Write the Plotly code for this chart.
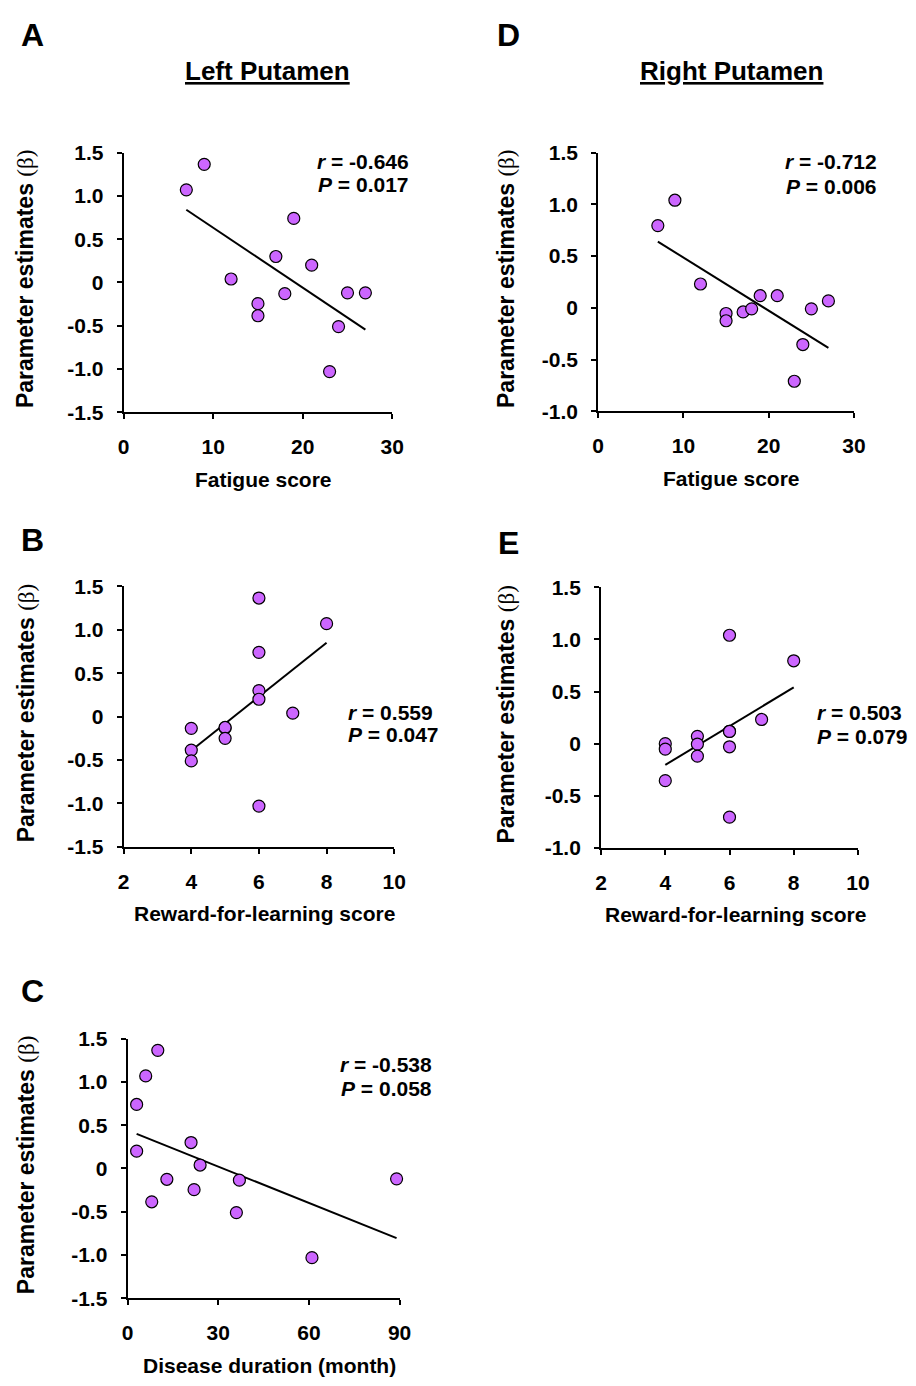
import plotly.graph_objects as go

W, H = 916, 1386

# ---------------- data ----------------
# A: Left putamen vs fatigue score
A_x = [7, 9, 12, 15, 15, 17, 18, 19, 21, 23, 24, 25, 27]
A_y = [1.07, 1.365, 0.04, -0.245, -0.385, 0.30, -0.13, 0.74, 0.20, -1.03, -0.51, -0.12, -0.12]
A_fit_x = [7, 27]
A_fit_y = [0.84, -0.545]

# B: Left putamen vs reward-for-learning score
B_x = [4, 4, 4, 5, 5, 5, 6, 6, 6, 6, 6, 7, 8]
B_y = [-0.135, -0.385, -0.51, -0.13, -0.125, -0.25, 1.365, 0.74, 0.30, 0.20, -1.03, 0.04, 1.07]
B_fit_x = [4, 8]
B_fit_y = [-0.39, 0.85]

# C: Left putamen vs disease duration
C_x = [3, 3, 6, 8, 10, 13, 21, 22, 24, 36, 37, 61, 89]
C_y = [0.74, 0.20, 1.07, -0.385, 1.365, -0.125, 0.30, -0.245, 0.04, -0.51, -0.135, -1.03, -0.12]
C_fit_x = [3, 89]
C_fit_y = [0.40, -0.805]

# D: Right putamen vs fatigue score
D_x = [7, 9, 12, 15, 15, 17, 18, 19, 21, 23, 24, 25, 27]
D_y = [0.795, 1.04, 0.23, -0.055, -0.125, -0.04, -0.01, 0.117, 0.117, -0.71, -0.355, -0.01, 0.067]
D_fit_x = [7, 27]
D_fit_y = [0.64, -0.387]

# E: Right putamen vs reward-for-learning score
E_x = [4, 4, 4, 5, 5, 5, 6, 6, 6, 6, 6, 7, 8]
E_y = [0.0, -0.053, -0.355, 0.07, -0.005, -0.12, 1.04, 0.119, 0.117, -0.03, -0.705, 0.232, 0.795]
E_fit_x = [4, 8]
E_fit_y = [-0.204, 0.54]

yticks_15 = [-1.5, -1.0, -0.5, 0, 0.5, 1.0, 1.5]
yticktext_15 = ["-1.5", "-1.0", "-0.5", "0", "0.5", "1.0", "1.5"]
yticks_10 = [-1.0, -0.5, 0, 0.5, 1.0, 1.5]
yticktext_10 = ["-1.0", "-0.5", "0", "0.5", "1.0", "1.5"]
xticks_fatigue = [0, 10, 20, 30]
xticks_reward = [2, 4, 6, 8, 10]
xticks_duration = [0, 30, 60, 90]

stats = {
    "A": ("-0.646", "0.017"),
    "B": ("0.559", "0.047"),
    "C": ("-0.538", "0.058"),
    "D": ("-0.712", "0.006"),
    "E": ("0.503", "0.079"),
}

# ---------------- styling ----------------
FONT = "Liberation Sans, Arial, Helvetica, sans-serif"
PURPLE = "#CC66FF"


def px(p):
    return p / W


def py(p):
    return 1 - p / H


panels = [
    ("A", A_x, A_y, A_fit_x, A_fit_y, [0, 30], [-1.5, 1.5], xticks_fatigue, yticks_15, yticktext_15,
     (120, 394, 143, 407), "Fatigue score"),
    ("D", D_x, D_y, D_fit_x, D_fit_y, [0, 30], [-1.0, 1.5], xticks_fatigue, yticks_10, yticktext_10,
     (604, 865, 143, 406), "Fatigue score"),
    ("B", B_x, B_y, B_fit_x, B_fit_y, [2, 10], [-1.5, 1.5], xticks_reward, yticks_15, yticktext_15,
     (120, 396, 584, 849), "Reward-for-learning score"),
    ("E", E_x, E_y, E_fit_x, E_fit_y, [2, 10], [-1.0, 1.5], xticks_reward, yticks_10, yticktext_10,
     (607, 869, 585, 850), "Reward-for-learning score"),
    ("C", C_x, C_y, C_fit_x, C_fit_y, [0, 90], [-1.5, 1.5], xticks_duration, yticks_15, yticktext_15,
     (124, 401.5, 1044, 1308), "Disease duration (month)"),
]

fig = go.Figure()
layout = dict(
    width=W, height=H, autosize=False,
    margin=dict(l=0, r=0, t=0, b=0),
    paper_bgcolor="white", plot_bgcolor="white",
    showlegend=False,
    font=dict(family=FONT, size=19, color="black", weight="bold"),
)
annotations = []

for i, (key, x, y, fx, fy, xr, yr, xt, yt, ytt, dom, xtitle) in enumerate(panels):
    n = i + 1
    xa = "x" if n == 1 else f"x{n}"
    ya = "y" if n == 1 else f"y{n}"
    x0, x1, yt_px, yb_px = dom
    common = dict(
        showline=True, linecolor="black", linewidth=2,
        ticks="outside", ticklen=5, tickwidth=2, tickcolor="black",
        showgrid=False, zeroline=False, fixedrange=True,
        tickfont=dict(family=FONT, size=21, color="black", weight="bold"),
    )
    layout["xaxis" if n == 1 else f"xaxis{n}"] = dict(
        common, domain=[px(x0), px(x1)], range=xr, anchor=ya,
        tickmode="array", tickvals=xt, ticktext=[str(v) for v in xt],
        ticklabelstandoff=10,
    )
    layout["yaxis" if n == 1 else f"yaxis{n}"] = dict(
        common, domain=[py(yb_px), py(yt_px)], range=yr, anchor=xa,
        tickmode="array", tickvals=yt, ticktext=ytt,
        ticklabelstandoff=9,
    )
    fig.add_trace(go.Scatter(
        x=fx, y=fy, mode="lines", xaxis=xa, yaxis=ya,
        line=dict(color="black", width=2), hoverinfo="skip", cliponaxis=False,
    ))
    fig.add_trace(go.Scatter(
        x=x, y=y, mode="markers", xaxis=xa, yaxis=ya, cliponaxis=False,
        marker=dict(size=12, color=PURPLE, line=dict(color="black", width=1.2)),
    ))

    cx = (x0 + x1) / 2 + 6
    annotations.append(dict(
        text=xtitle, xref="paper", yref="paper", x=px(cx), y=py(yb_px + 68),
        xanchor="center", yanchor="middle", showarrow=False,
        font=dict(family=FONT, size=21, color="black", weight="bold"),
    ))
    ytx = 20 if x0 < 300 else 510
    cy = (yt_px + yb_px) / 2 - 3
    annotations.append(dict(
        text="Parameter estimates <span style=\"font-weight:normal;font-family:'Liberation Serif'\">(β)</span>",
        xref="paper", yref="paper", x=px(ytx), y=py(cy), textangle=-90,
        xanchor="center", yanchor="middle", showarrow=False,
        font=dict(family=FONT, size=23, color="black", weight="bold"),
    ))

r_txt = {k: f"<i>r</i> = {v[0]}" for k, v in stats.items()}
p_txt = {k: f"<i>P</i> = {v[1]}" for k, v in stats.items()}
stat_pos = {
    "A": (413, 152, 175, "right"),
    "D": (890, 152, 177, "right"),
    "B": (347, 712, 735, "left"),
    "E": (825, 712, 737, "left"),
    "C": (437, 1070, 1095, "right"),
}
for k, (sx, ry, pyy, anc) in stat_pos.items():
    for txt, yy in ((r_txt[k], ry), (p_txt[k], pyy)):
        annotations.append(dict(
            text=txt, xref="paper", yref="paper", x=px(sx), y=py(yy),
            xanchor=anc, yanchor="middle", showarrow=False,
            font=dict(family=FONT, size=21, color="black", weight="bold"),
        ))

for letter, lx, ly in (("A", 27, 23), ("D", 513, 23), ("B", 27, 537), ("E", 513, 540), ("C", 27, 996)):
    annotations.append(dict(
        text=letter, xref="paper", yref="paper", x=px(lx), y=py(ly),
        xanchor="center", yanchor="middle", showarrow=False,
        font=dict(family=FONT, size=32, color="black", weight="bold"),
    ))

for title, tx in (("Left Putamen", 267), ("Right Putamen", 740)):
    annotations.append(dict(
        text=f"<u>{title}</u>", xref="paper", yref="paper", x=px(tx), y=py(60),
        xanchor="center", yanchor="middle", showarrow=False,
        font=dict(family=FONT, size=26, color="black", weight="bold"),
    ))

layout["annotations"] = annotations
fig.update_layout(**layout)
fig.write_html(
    "out.html",
    config={"displayModeBar": False, "staticPlot": True},
    post_script="document.body.style.margin='0';document.body.style.overflow='hidden';",
)
